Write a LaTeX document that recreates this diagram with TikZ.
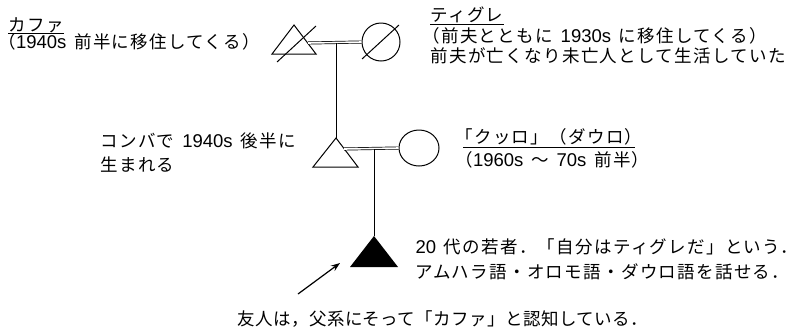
\documentclass[tikz,border=0pt]{standalone}
\usepackage{fontspec}
\newfontfamily\jp{Noto Sans CJK JP}[LetterSpace=7.5,WordSpace=1.5]
\newfontfamily\jpn{Noto Sans CJK JP}[LetterSpace=2.5]
\newfontfamily\latfont{Liberation Sans}
\newcommand\LatR[1]{{\latfont\fontsize{18.5}{20}\selectfont #1}}
\usetikzlibrary{arrows.meta,shapes.geometric}
\begin{document}
\begin{tikzpicture}[x=1pt,y=-1pt,line width=1pt,
  txt/.style={anchor=base west,inner sep=0pt,font={\jp\fontsize{17.5}{20}\selectfont}},
  txtn/.style={anchor=base west,inner sep=0pt,font={\jpn\fontsize{17.5}{20}\selectfont}},
  dbl/.style={double,double distance=1.6pt,line width=0.7pt},
  ul/.style={line width=0.8pt},
  person/.style={line width=1pt}]
\useasboundingbox (0,0) rectangle (802,330);
% generation 1
\coordinate (A1) at (294,25);
\draw[person] (272,54) -- (A1) -- (316,54) -- cycle;
\draw[person] (277,62) -- (316,26);
\node[draw,circle,minimum size=38pt,inner sep=0pt,line width=1pt] (c1) at (381,42) {};
\draw[person] (362,59) -- (399,25);
\coordinate (m1) at (308,43);
\draw[dbl] (m1) -- (c1.west);
\coordinate (d1) at (336,43);
% generation 2
\coordinate (A2) at (336,138);
\draw (d1) -- (A2);
\draw[person] (313,167) -- (A2) -- (358,167) -- cycle;
\node[draw,ellipse,minimum width=40pt,minimum height=36pt,inner sep=0pt,line width=1pt] (c2) at (419,148) {};
\coordinate (m2) at (344,149);
\draw[dbl] (m2) -- (c2.west);
\coordinate (d2) at (374,149);
% generation 3
\coordinate (A3) at (374,236);
\draw (d2) -- (A3);
\fill (350,267) -- (A3) -- (398,267) -- cycle;
% arrow
\coordinate (arrT) at (298,294);
\coordinate (arrH) at (340,263);
\draw[line width=1.2pt,-{Stealth[length=9pt,width=6.5pt]}] (arrT) -- (arrH);
% texts
\node[txt] (kafa) at (8,31) {カファ};
\draw[ul] ([yshift=-2.5pt]kafa.base west) -- ([yshift=-2.5pt]kafa.base east);
\node[txt] (kafa2) at (-2,48) {（\LatR{1940s} 前半に移住してくる）};
\node[txt] (tig) at (430,21) {ティグレ};
\draw[ul] ([yshift=-3pt]tig.base west) -- ([yshift=-3pt]tig.base east);
\node[txt] (tig2) at (422,42) {（前夫とともに \LatR{1930s} に移住してくる）};
\node[txt] (tig3) at (430,62) {前夫が亡くなり未亡人として生活していた};
\node[txt] (kom1) at (100,147) {コンバで \LatR{1940s} 後半に};
\node[txt] (kom2) at (100,171) {生まれる};
\node[txt] (kur1) at (455,143) {「クッロ」（ダウロ）};
\draw[ul] ([xshift=8pt,yshift=-4pt]kur1.base west) -- ([xshift=-8pt,yshift=-4pt]kur1.base east);
\node[txt] (kur2) at (455,166) {（\LatR{1960s} ～ \LatR{70s} 前半）};
\node[txt] (y1) at (415,253) {\LatR{20} 代の若者．「自分はティグレだ」という．};
\node[txt] (y2) at (415,278) {アムハラ語・オロモ語・ダウロ語を話せる．};
\node[txtn] (fr) at (237,325) {友人は，父系にそって「カファ」と認知している．};
\end{tikzpicture}
\end{document}
